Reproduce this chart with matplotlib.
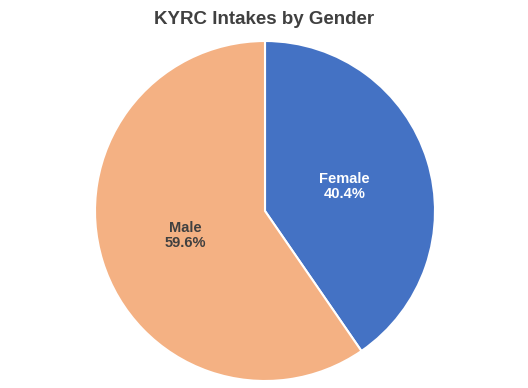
import matplotlib.pyplot as plt

plt.rcParams['font.family'] = ['Liberation Sans', 'DejaVu Sans']

# data
genders = ['Female', 'Male']
shares = [40.4, 59.6]
colors = ['#4472C4', '#F4B183']
text_colors = ['white', '#404040']

fig = plt.figure(figsize=(5.28, 3.88), dpi=100)
fig.patch.set_facecolor('white')

# pie area: center (265, 211) px, radius 170 px
ax = fig.add_axes([95 / 528, 7 / 388, 340 / 528, 340 / 388])
wedges, texts, autotexts = ax.pie(
    shares, colors=colors, startangle=90, counterclock=False,
    autopct='%1.1f%%', pctdistance=0.49, radius=1.0,
    wedgeprops=dict(edgecolor='white', linewidth=1.5))

for i, t in enumerate(autotexts):
    t.set_text(genders[i] + '\n' + t.get_text())
    t.set_color(text_colors[i])
    t.set_fontsize(10.5)
    t.set_fontweight('bold')
    t.set_linespacing(1.1)

ax.set_xlim(-1, 1)
ax.set_ylim(-1, 1)
ax.set_aspect('equal')

fig.text(0.5, 1 - 19 / 388, 'KYRC Intakes by Gender', ha='center', va='center',
         fontsize=13.5, fontweight='bold', color='#404040')

plt.savefig('out.png', dpi=100)
